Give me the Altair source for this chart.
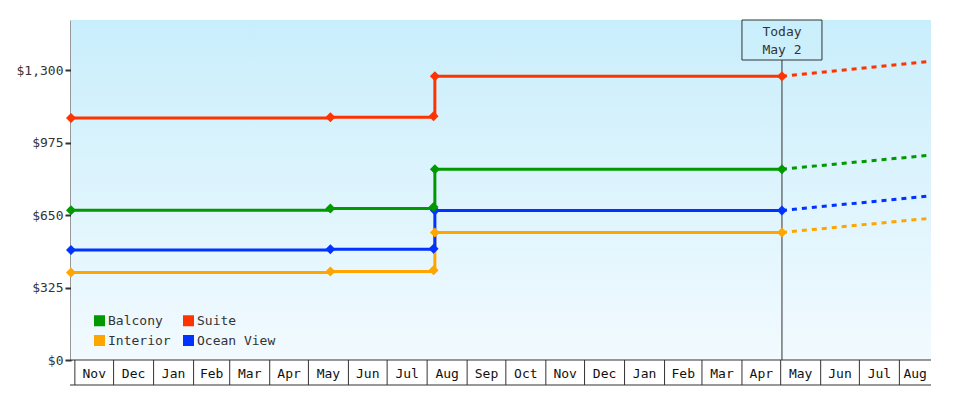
import altair as alt
import pandas as pd

# ---- data ----
# legend fills column by column: Balcony/Interior in column 1, Suite/Ocean View in column 2
series_names = ["Balcony", "Interior", "Suite", "Ocean View"]
series_colors = ["#009900", "#ffa500", "#ff3300", "#0033ff"]

hist_dates = ["2022-10-29T00:00:00", "2023-05-18T00:00:00", "2023-08-06T00:00:00",
              "2023-08-07T00:00:00", "2024-05-02T00:00:00"]
interior = [393, 397, 402, 572, 572]
ocean_view = [493, 497, 499, 671, 671]
balcony = [672, 680, 686, 856, 856]
suite = [1085, 1089, 1093, 1273, 1273]

forecast_dates = ["2024-05-02T00:00:00", "2024-08-25T12:00:00"]
interior_fc = [572, 636]
ocean_view_fc = [671, 736]
balcony_fc = [856, 919]
suite_fc = [1273, 1340]

today = "2024-05-02T00:00:00"
today_label = "Today\nMay 2"

month_labels = ["Nov", "Dec", "Jan", "Feb", "Mar", "Apr", "May", "Jun", "Jul", "Aug", "Sep",
                "Oct", "Nov", "Dec", "Jan", "Feb", "Mar", "Apr", "May", "Jun", "Jul", "Aug"]
first_month = "2022-11-01"

y_ticks = [0, 325, 650, 975, 1300]
x_start = alt.DateTime(year=2022, month=10, date=29)
x_end = alt.DateTime(year=2024, month=8, date=25, hours=12)
x_end_ts = pd.Timestamp("2024-08-25T12:00:00")

W, H = 860, 340
FONT = "DejaVu Sans Mono"
INK = "#333333"

# ---- tables ----
hist_rows, fc_rows = [], []
for name, vals, fc in [("Interior", interior, interior_fc),
                       ("Ocean View", ocean_view, ocean_view_fc),
                       ("Balcony", balcony, balcony_fc),
                       ("Suite", suite, suite_fc)]:
    for d, v in zip(hist_dates, vals):
        hist_rows.append({"series": name, "date": d, "price": v})
    for d, v in zip(forecast_dates, fc):
        fc_rows.append({"series": name, "date": d, "price": v})
hist = pd.DataFrame(hist_rows)
fc = pd.DataFrame(fc_rows)

starts = pd.date_range(first_month, periods=len(month_labels), freq="MS")
ends = list(starts[1:]) + [x_end_ts]
months = pd.DataFrame({
    "label": month_labels,
    "start": [s.strftime("%Y-%m-%dT%H:%M:%S") for s in starts],
    "mid": [(s + (e - s) / 2).strftime("%Y-%m-%dT%H:%M:%S") for s, e in zip(starts, ends)],
})

xscale = alt.Scale(domain=[x_start, x_end])
yscale = alt.Scale(domain=[0, 1525], nice=False)
cscale = alt.Scale(domain=series_names, range=series_colors)

X = lambda f: alt.X(f"{f}:T", scale=xscale, axis=None)

YENC = alt.Y("price:Q", scale=yscale,
             axis=alt.Axis(values=y_ticks, format="$,.0f", grid=False, title=None,
                           domainColor=INK, domainWidth=2, tickColor=INK, tickWidth=2,
                           tickSize=6, labelFont=FONT, labelFontSize=13, labelColor=INK,
                           labelPadding=2))
CENC = alt.Color("series:N", scale=cscale,
                 legend=alt.Legend(title=None, orient="none", legendX=22, legendY=294,
                                   columns=2, symbolType="square", symbolSize=121,
                                   symbolStrokeWidth=0, symbolOpacity=1,
                                   labelFont=FONT, labelFontSize=13, labelColor=INK,
                                   labelOffset=2, columnPadding=11, rowPadding=6,
                                   padding=0))

# background gradient
bg = alt.Chart(alt.Data(values=[{}])).mark_rect(
    color=alt.Gradient(gradient="linear", x1=0, x2=0, y1=0, y2=1,
                       stops=[alt.GradientStop(color="#c9eefb", offset=0),
                              alt.GradientStop(color="#f2faff", offset=1)])
).encode(x=alt.value(0), x2=alt.value(W), y=alt.value(0), y2=alt.value(H))

# month cells under the plot
cell_top = alt.Chart(alt.Data(values=[{}])).mark_rule(color=INK, strokeWidth=1).encode(
    x=alt.value(0), x2=alt.value(W), y=alt.value(H))
cell_bottom = alt.Chart(alt.Data(values=[{}])).mark_rule(color=INK, strokeWidth=1.2).encode(
    x=alt.value(-1), x2=alt.value(W), y=alt.value(H + 25))
month_sep = alt.Chart(months).mark_rule(color=INK, strokeWidth=1).encode(
    x=X("start"), y=alt.value(H), y2=alt.value(H + 25))
month_txt = alt.Chart(months).mark_text(font=FONT, fontSize=13, color="#111",
                                        baseline="alphabetic").encode(
    x=X("mid"), y=alt.value(H + 18), text="label:N")

# today marker
today_df = pd.DataFrame({"date": [today], "label": [today_label]})
today_rule = alt.Chart(today_df).mark_rule(color=INK, strokeWidth=1).encode(
    x=X("date"), y=alt.value(40), y2=alt.value(H))
today_box = alt.Chart(today_df).mark_rect(
    fill="transparent", stroke=INK, strokeWidth=1, xOffset=-40, x2Offset=40
).encode(x=X("date"), x2="date:T", y=alt.value(0), y2=alt.value(40))
today_txt = alt.Chart(today_df).mark_text(
    font=FONT, fontSize=13, color=INK, lineBreak="\n", lineHeight=18, baseline="middle"
).encode(x=X("date"), y=alt.value(12), text="label:N")

# invisible layer that supplies the (filled square) legend
legend_src = alt.Chart(hist).mark_point(shape="square", filled=True, opacity=0).encode(
    x=X("date"), y=YENC, color=CENC)

fc_lines = alt.Chart(fc).mark_line(strokeWidth=3, strokeDash=[5, 5]).encode(
    x=X("date"), y=YENC, color=CENC, detail="series:N")

hist_lines = alt.Chart(hist).mark_line(strokeWidth=3, interpolate="step-after").encode(
    x=X("date"), y=YENC, color=CENC)

pts = alt.Chart(hist).mark_point(shape="diamond", filled=True, size=100, opacity=1).encode(
    x=X("date"), y=YENC, color=CENC)

chart = alt.layer(
    bg, cell_top, cell_bottom, month_sep, month_txt,
    today_rule, today_box, today_txt,
    legend_src, fc_lines, hist_lines, pts
).properties(
    width=W, height=H,
    autosize=alt.AutoSizeParams(type="none"),
    padding={"left": 63, "top": 12, "right": 41, "bottom": 26},
    background="white",
).configure_view(strokeWidth=0)

chart.save("out.html", embed_options={"renderer": "svg", "actions": False})
